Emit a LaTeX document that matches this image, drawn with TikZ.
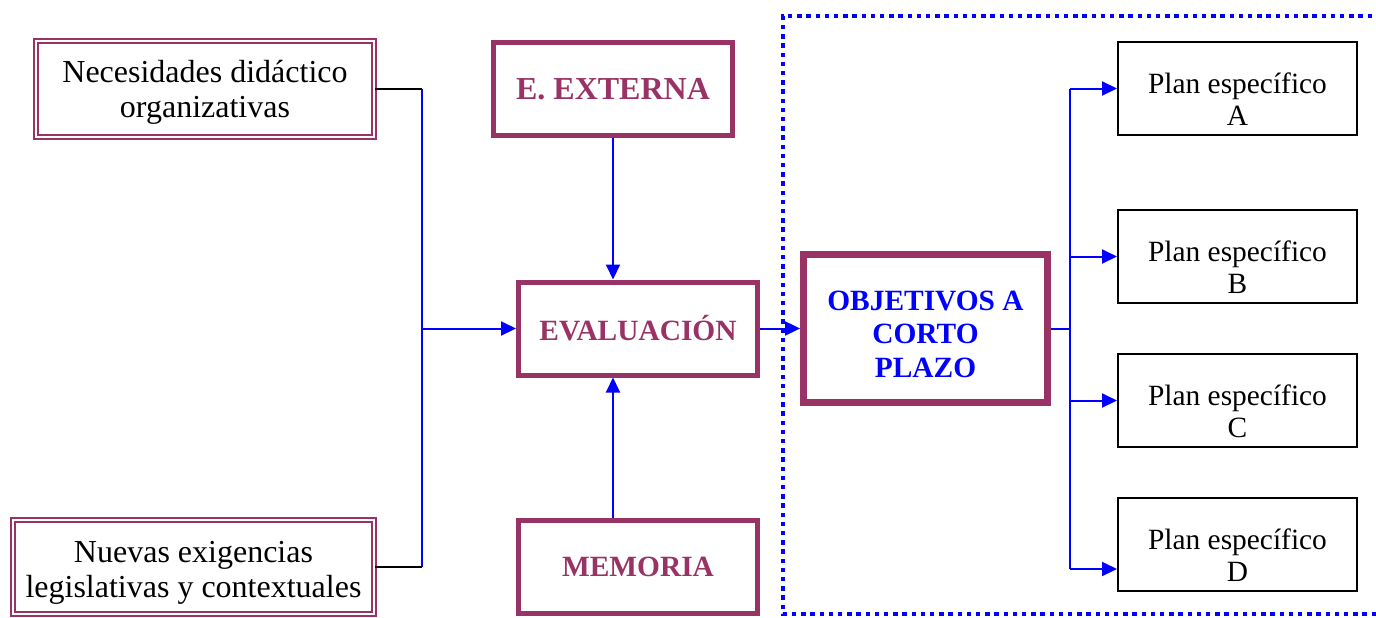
\documentclass[tikz,border=0pt]{standalone}
\usepackage{fontspec}
\setmainfont{Liberation Serif}
\usetikzlibrary{arrows.meta}
\definecolor{plum}{HTML}{993366}

\begin{document}
\begin{tikzpicture}[x=0.5pt,y=-0.5pt,
  dblbox/.style={draw=plum, double=white, line width=1.1pt, double distance=1pt,
    align=center, inner sep=0pt, font=\fontsize{16}{17.5}\selectfont},
  boldbox/.style={draw=plum, line width=2.5pt, text=plum, align=center,
    minimum width=119.5pt, minimum height=46.5pt, font=\fontsize{14.7}{16.75}\selectfont\bfseries},
  planbox/.style={draw, line width=1pt, align=center, inner sep=0pt, minimum width=119.5pt,
    text height=41.5pt, text depth=5pt, font=\fontsize{14.7}{16}\selectfont},
  link/.style={blue, line width=1pt},
  arr/.style={link, -{Triangle[length=7.5pt,width=7pt]}},
  dotbox/.style={blue, line width=2pt, dash pattern=on 2.2pt off 2.4pt}]
\useasboundingbox (0,0) rectangle (1376,617);
% marco punteado
\draw [dotbox] (1376,614) -- (783,614) -- (783,16) -- (1376,16);
% cajas
\node [dblbox, minimum width=169pt, text height=38.4pt, text depth=9.6pt] (nec) at (205,89) {Necesidades didáctico\\organizativas};
\node [dblbox, minimum width=180.5pt, text height=38.9pt, text depth=8.1pt] (nue) at (193.5,567) {Nuevas exigencias\\legislativas y contextuales};
\node [boldbox, font=\fontsize{16}{17}\selectfont\bfseries] (ext) at (613,89) {E. EXTERNA};
\node [boldbox] (eval) at (638,328.5) {EVALUACIÓN};
\node [boldbox] (mem) at (638,567) {MEMORIA};
\node [boldbox, line width=3.4pt, text=blue, inner sep=0pt, minimum width=122pt,
  text height=61.25pt, text depth=12.75pt] (obj) at (925.5,328.5) {OBJETIVOS A\\CORTO\\PLAZO};
\draw [plum, line width=0.8pt] ([xshift=3pt,yshift=-3pt]obj.north west) rectangle ([xshift=-3pt,yshift=3pt]obj.south east);
\node [planbox] (pa) at (1237.5,88.5) {Plan específico\\A};
\node [planbox] (pb) at (1237.5,256.5) {Plan específico\\B};
\node [planbox] (pc) at (1237.5,400.5) {Plan específico\\C};
\node [planbox] (pd) at (1237.5,544.5) {Plan específico\\D};
% conexiones izquierda
\coordinate (jl) at (422,328.5);
\draw [line width=1pt] (nec.east) -- (nec.east -| jl);
\draw [line width=1pt] (nue.east) -- (nue.east -| jl);
\draw [link] (nec.east -| jl) -- (nue.east -| jl);
\draw [arr] (jl) -- (eval.west);
\draw [arr] (ext.south) -- (ext.south |- eval.north);
\draw [arr] (ext.south |- mem.north) -- (ext.south |- eval.south);
\draw [arr] (eval.east) -- (obj.west);
% conexiones derecha
\coordinate (jr) at (1070,328.5);
\coordinate (dend) at ([yshift=-12.25pt]pd.west);
\draw [link] (obj.east) -- (jr);
\draw [link] (pa.west -| jr) -- (dend -| jr);
\draw [arr] (pa.west -| jr) -- (pa.west);
\draw [arr] (pb.west -| jr) -- (pb.west);
\draw [arr] (pc.west -| jr) -- (pc.west);
\draw [arr] (dend -| jr) -- (dend);
\end{tikzpicture}
\end{document}
